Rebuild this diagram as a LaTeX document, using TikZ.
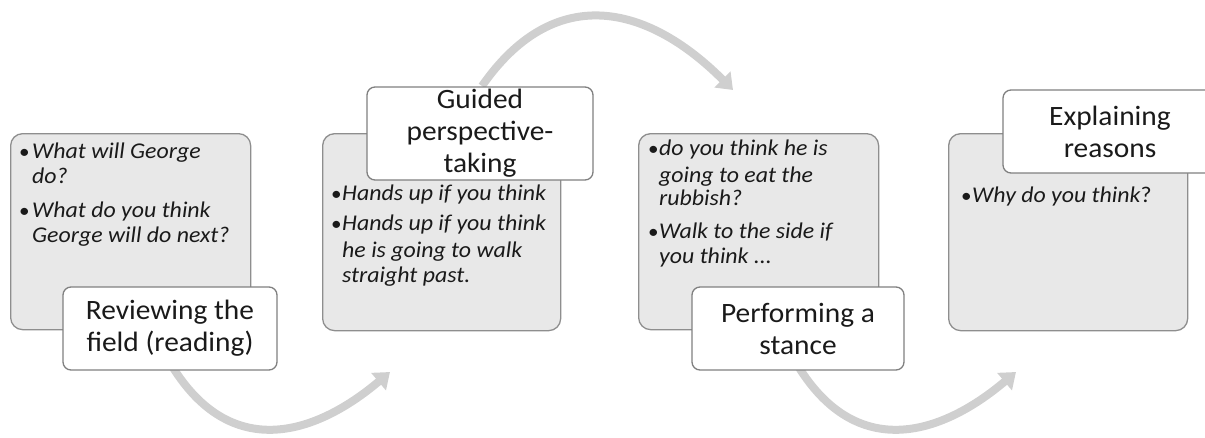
\documentclass[tikz,border=0pt]{standalone}
\usepackage{fontspec}
\setmainfont{Carlito}
\newfontfamily\bodyfont[FakeStretch=1.06]{Carlito}
\newfontfamily\lblfont[FakeStretch=1.05]{Carlito}
\usetikzlibrary{arrows.meta}
\definecolor{boxfill}{HTML}{E8E8E8}
\definecolor{boxline}{HTML}{8E8E8E}
\definecolor{lblline}{HTML}{808080}
\definecolor{arrowc}{HTML}{CFCFCF}
\definecolor{txt}{HTML}{1A1A1A}
\begin{document}
\begin{tikzpicture}[x=1pt,y=-1pt,
  gbox/.style={draw=boxline, fill=boxfill, line width=1.3pt, rounded corners=12pt, anchor=north west, inner sep=0pt},
  lbl/.style={draw=lblline, fill=white, line width=1.3pt, rounded corners=8pt, inner sep=0pt, align=center, font=\lblfont\fontsize{28}{32}\selectfont, text=txt},
  body/.style={anchor=base west, inner sep=0pt, font=\bodyfont\fontsize{22.5}{25}\selectfont\itshape, text=txt},
  bul/.style={anchor=base west, inner sep=0pt, font=\bodyfont\fontsize{20}{25}\selectfont, text=txt},
  flow/.style={draw=arrowc, line width=8pt, -{Triangle[width=22pt,length=15pt]}}
]
\useasboundingbox (0,0) rectangle (1205,437);
\clip (0,0) rectangle (1205,437);

% connector end points
\coordinate (s1) at (172,366);
\coordinate (e1) at (390,372);
\coordinate (s2) at (482,86);
\coordinate (e2) at (733,90);
\coordinate (s3) at (798,366);
\coordinate (e3) at (1016,372);

% arrows (behind boxes)
\draw[flow] (s1) .. controls (230,460) and (313,437) .. (e1);
\draw[flow] (s2) .. controls (553,-16) and (645,2) .. (e2);
\draw[flow] (s3) .. controls (856,460) and (939,437) .. (e3);

% grey content boxes
\node[gbox, minimum width=240pt, minimum height=196pt] (b1) at (10,133) {};
\node[gbox, minimum width=238pt, minimum height=197pt] (b2) at (322,133) {};
\node[gbox, minimum width=240pt, minimum height=196pt] (b3) at (638,133) {};
\node[gbox, minimum width=239pt, minimum height=197pt] (b4) at (948,133) {};

% box 1 text
\node[bul]  (b1p1) at (19,158) {\textbullet};
\node[body] (b1t1) at (32,158) {What will George};
\node[body] (b1t2) at (32,183) {do?};
\node[bul]  (b1p2) at (19,217) {\textbullet};
\node[body] (b1t3) at (32,217) {What do you think};
\node[body] (b1t4) at (32,242) {George will do next?};

% box 2 text
\node[bul]  (b2p1) at (331,200) {\textbullet};
\node[body] (b2t1) at (342,200) {Hands up if you think};
\node[bul]  (b2p2) at (331,230) {\textbullet};
\node[body] (b2t2) at (342,230) {Hands up if you think};
\node[body] (b2t3) at (342,257) {he is going to walk};
\node[body] (b2t4) at (342,282) {straight past.};

% box 3 text
\node[bul]  (b3p1) at (648,155) {\textbullet};
\node[body] (b3t1) at (659,155) {do you think he is};
\node[body] (b3t2) at (659,182) {going to eat the};
\node[body] (b3t3) at (659,205) {rubbish?};
\node[bul]  (b3p2) at (648,238) {\textbullet};
\node[body] (b3t4) at (659,238) {Walk to the side if};
\node[body] (b3t5) at (659,263) {you think ...};

% box 4 text
\node[bul]  (b4p1) at (961,202) {\textbullet};
\node[body] (b4t1) at (972,202) {Why do you think{\upshape ?}};

% white labels
\node[lbl, minimum width=214pt, minimum height=83pt] (l1) at (170,328.5) {Reviewing the\\field (reading)};
\node[lbl, minimum width=226pt, minimum height=93pt] (l2) at (480,133.5) {Guided\\perspective-\\taking};
\node[lbl, minimum width=212pt, minimum height=83pt] (l3) at (798,328.5) {Performing a\\stance};
\node[lbl, minimum width=214pt, minimum height=83pt] (l4) at (1110,131.5) {Explaining\\reasons};
\end{tikzpicture}
\end{document}
